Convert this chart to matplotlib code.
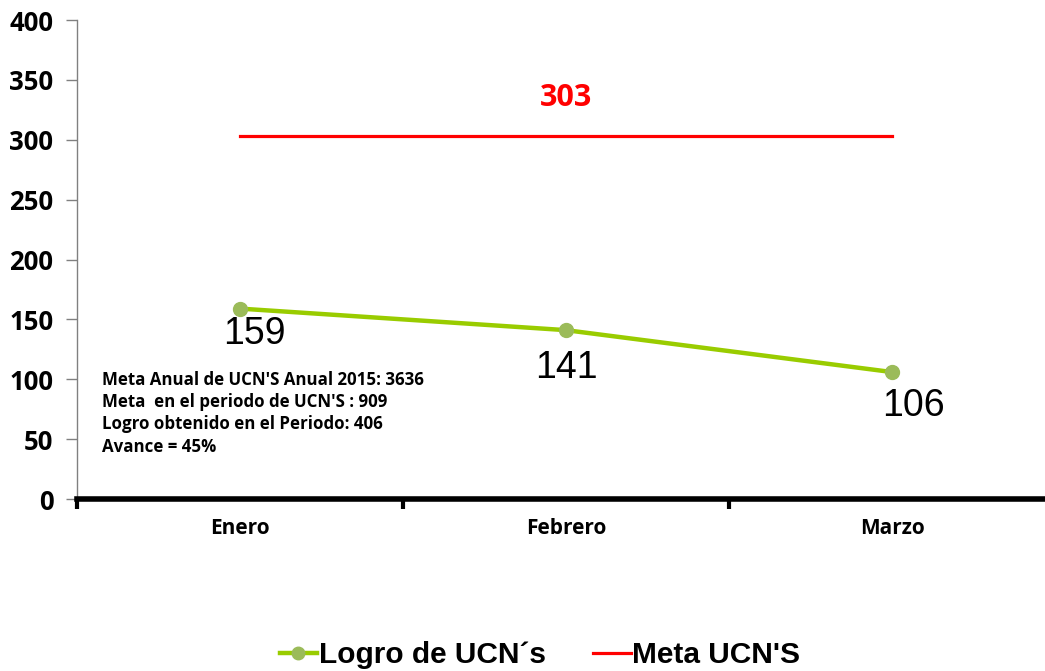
import matplotlib.pyplot as plt

# data
meses = ["Enero", "Febrero", "Marzo"]
logro = [159, 141, 106]
meta = [303, 303, 303]
meta_label = "303"
nota = ["Meta Anual de UCN'S Anual 2015: 3636",
        "Meta  en el periodo de UCN'S : 909",
        "Logro obtenido en el Periodo: 406",
        "Avance = 45%"]

fig = plt.figure(figsize=(10.45, 6.71), dpi=100)
ax = fig.add_axes([77 / 1045, 1 - 499 / 671, 1 - 77 / 1045, (499 - 20) / 671])

x = list(range(len(meses)))
ax.plot(x, logro, color="#99CC00", lw=3.2, marker="o", markersize=10,
        markerfacecolor="#9BBB59", markeredgecolor="#9BBB59",
        label="Logro de UCN´s", zorder=3)
ax.plot(x, meta, color="#FF0000", lw=2.3, label="Meta UCN'S", zorder=2)

# data labels under the green points
offsets = [(14, -25), (0, -38), (21, -34)]
for xi, v, off in zip(x, logro, offsets):
    ax.annotate(str(v), (xi, v), xytext=off, textcoords="offset pixels",
                ha="center", va="center", fontsize=27,
                family="Liberation Sans")

ax.text(1, 335, meta_label, color="#FF0000", fontsize=22,
        fontweight="bold", family="Open Sans", ha="center", va="center")

ax.set_ylim(0, 400)
ax.set_xlim(-0.5, (1045 - 240) / 326)
ax.set_yticks(range(0, 401, 50))
ax.set_xticks(x)
ax.set_xticklabels(meses)
ax.set_xticks([-0.5, 0.5, 1.5], minor=True)

for lbl in ax.get_yticklabels():
    lbl.set_fontweight("bold")
    lbl.set_fontsize(18.5)
    lbl.set_family("Open Sans")
for lbl in ax.get_xticklabels():
    lbl.set_fontweight("bold")
    lbl.set_fontsize(15)
    lbl.set_family("Open Sans")

ax.tick_params(axis="y", direction="out", length=8, width=1, color="#808080", pad=9)
ax.tick_params(axis="x", which="major", length=0, pad=14)
ax.tick_params(axis="x", which="minor", length=7, width=3, color="black")

for s in ["top", "right"]:
    ax.spines[s].set_visible(False)
ax.spines["left"].set_color("#808080")
ax.spines["left"].set_linewidth(1)
ax.spines["bottom"].set_color("black")
ax.spines["bottom"].set_linewidth(4)

fig.text(102 / 1045, 1 - 371 / 671, "\n".join(nota), fontsize=12.2,
         fontweight="bold", family="Open Sans", va="top", ha="left",
         linespacing=1.3)

fig.legend(loc="center", bbox_to_anchor=(540 / 1045, 1 - 655 / 671), ncol=2,
           frameon=False, handlelength=1.25, handletextpad=0.05, columnspacing=1.6,
           markerscale=0.9,
           prop={"family": "Liberation Sans", "weight": "bold", "size": 21.5})

fig.savefig("out.png", dpi=100)
